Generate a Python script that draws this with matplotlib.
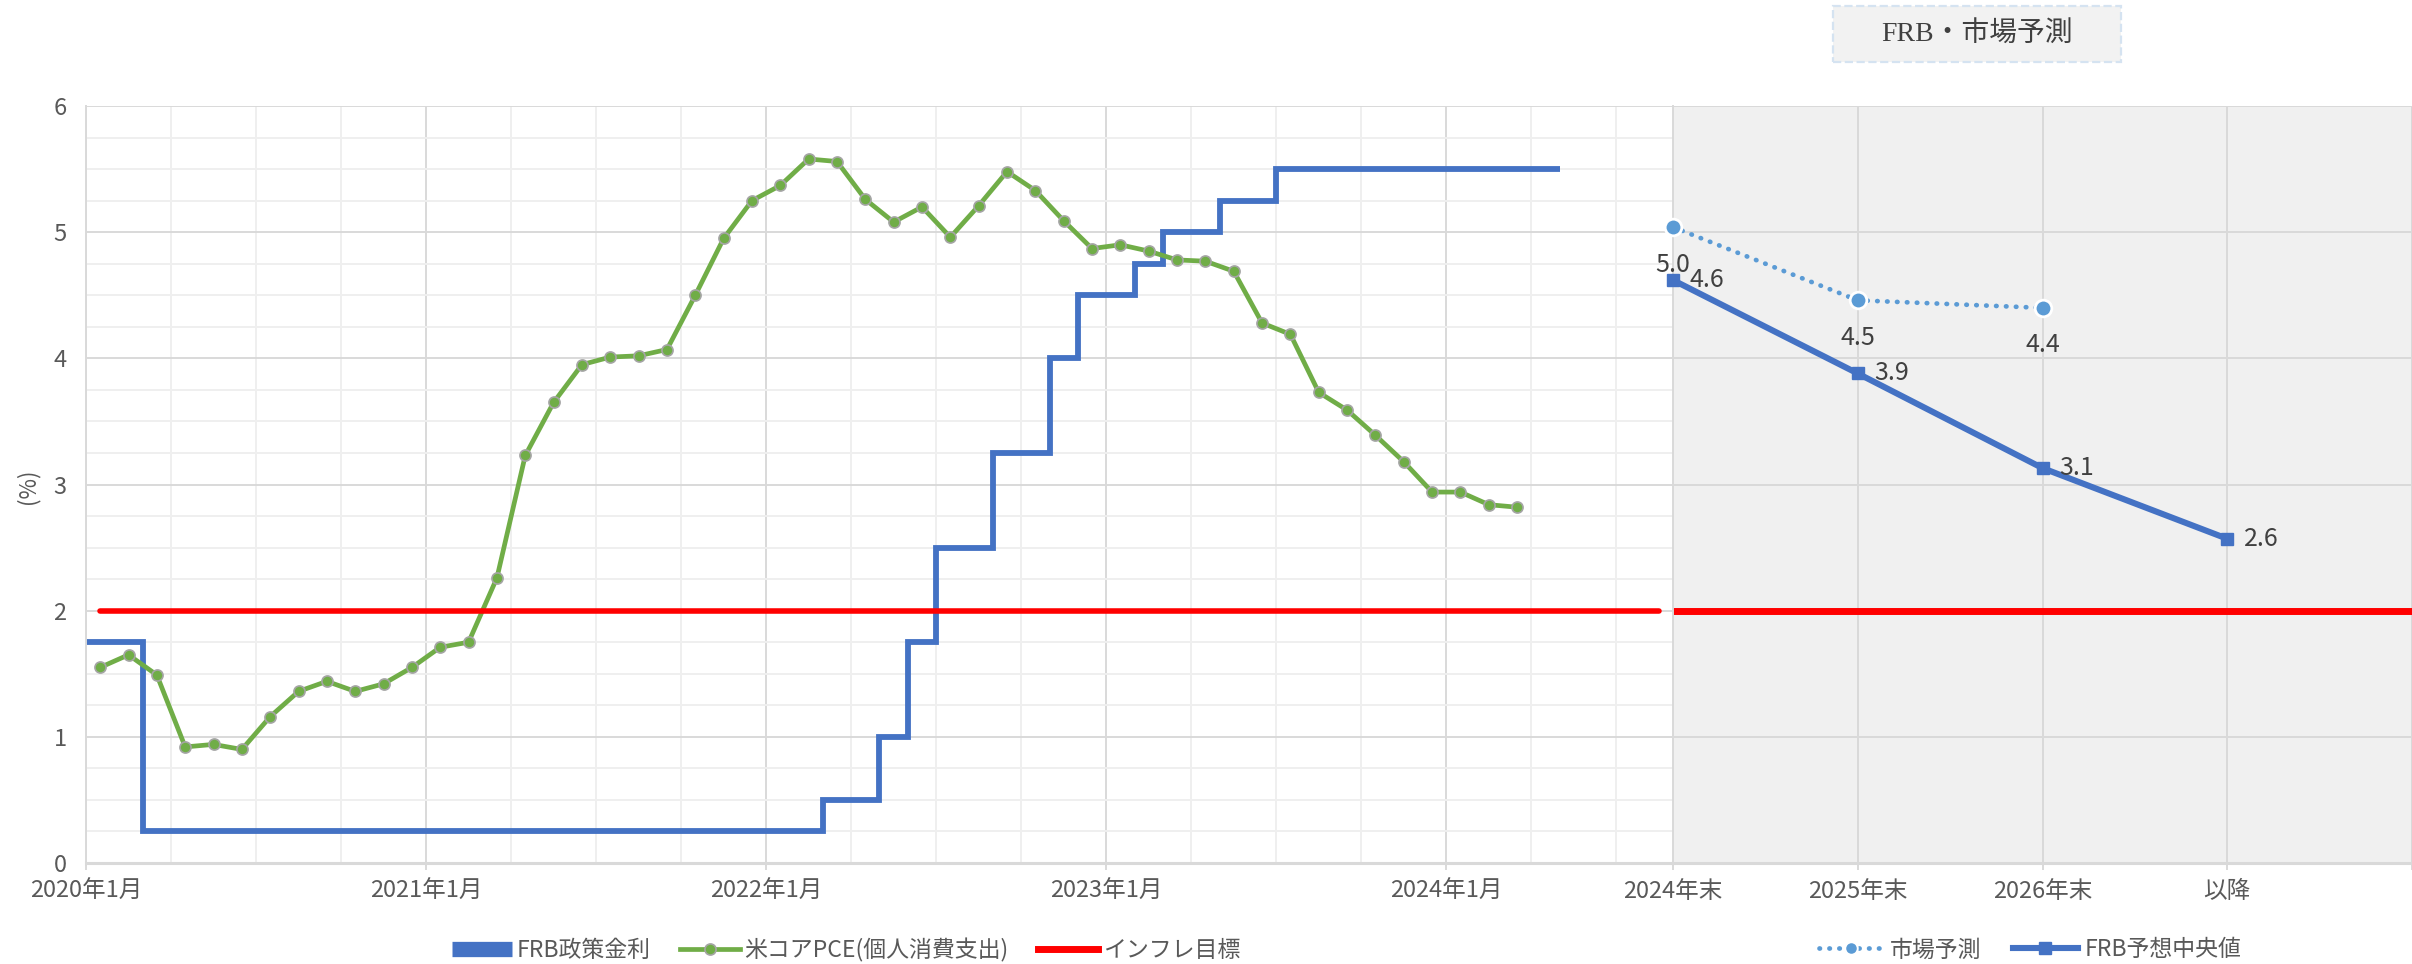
import numpy as np
import pandas as pd
import matplotlib
matplotlib.use("Agg")
import matplotlib.pyplot as plt
from matplotlib.lines import Line2D
from matplotlib.patches import Rectangle
from matplotlib.ticker import MultipleLocator

plt.rcParams["font.family"] = ["Noto Sans CJK JP", "DejaVu Sans"]

# ---- data ---------------------------------------------------------------
# monthly category axis of the left panel
AXIS_START = "2020-01"
AXIS_END = "2024-08"
year_tick_months = ["2020-01", "2021-01", "2022-01", "2023-01", "2024-01"]
year_tick_labels = ["2020年1月", "2021年1月", "2022年1月", "2023年1月", "2024年1月"]

# US core PCE, y/y %, monthly from PCE_START
PCE_START = "2020-01"
core_pce = [
    1.55, 1.65, 1.49, 0.92, 0.94, 0.90, 1.16, 1.36, 1.44, 1.36, 1.42, 1.55,
    1.71, 1.75, 2.26, 3.23, 3.65, 3.95, 4.01, 4.02, 4.07, 4.50, 4.95, 5.25,
    5.37, 5.58, 5.56, 5.26, 5.08, 5.20, 4.96, 5.21, 5.48, 5.33, 5.09, 4.87,
    4.90, 4.85, 4.78, 4.77, 4.69, 4.28, 4.19, 3.73, 3.59, 3.39, 3.18, 2.94,
    2.94, 2.84, 2.82,
]

# FRB policy rate (upper bound): level in effect from each month
rate_from = ["2020-01", "2020-03", "2022-03", "2022-05", "2022-06", "2022-07",
             "2022-09", "2022-11", "2022-12", "2023-02", "2023-03", "2023-05",
             "2023-07"]
rate_level = [1.75, 0.25, 0.5, 1.0, 1.75, 2.5, 3.25, 4.0, 4.5, 4.75, 5.0, 5.25, 5.5]
RATE_UNTIL = "2024-05"

INFLATION_TARGET = 2.0

# right panel: forecasts
forecast_labels = ["2024年末", "2025年末", "2026年末", "以降"]
market_forecast = [5.04, 4.46, 4.40]
frb_median = [4.62, 3.88, 3.13, 2.57]

# ---- style ---------------------------------------------------------------
BLUE = "#4472C4"
GREEN = "#70AD47"
RED = "#FF0000"
LIGHT_BLUE = "#5B9BD5"
GRID_MAJOR = "#d9d9d9"
GRID_MINOR = "#efefef"
TEXT = "#595959"
LABEL = "#404040"

W, H = 2412, 964


def month_index(m):
    return (pd.Period(m, "M") - pd.Period(AXIS_START, "M")).n


n_months = month_index(AXIS_END) + 1

fig = plt.figure(figsize=(W / 100, H / 100), dpi=100)
y0, y1 = 863, 106
split = 1673
ax = fig.add_axes([86 / W, (H - y0) / H, (split - 86) / W, (y0 - y1) / H])
axr = fig.add_axes([split / W, (H - y0) / H, (W - split) / W, (y0 - y1) / H])

# ---- left panel ----------------------------------------------------------
ax.set_xlim(0, n_months)
ax.set_ylim(0, 6)
ax.set_xticks([month_index(m) for m in year_tick_months])
ax.set_xticklabels(year_tick_labels)
ax.xaxis.set_minor_locator(MultipleLocator(3))
ax.yaxis.set_major_locator(MultipleLocator(1))
ax.yaxis.set_minor_locator(MultipleLocator(0.25))
ax.grid(which="minor", color=GRID_MINOR, lw=1.4)
ax.grid(which="major", color=GRID_MAJOR, lw=1.4)
ax.set_axisbelow(True)
for s in ("top", "right"):
    ax.spines[s].set_visible(False)
ax.spines["left"].set_color(GRID_MAJOR)
ax.spines["left"].set_linewidth(1.4)
ax.spines["bottom"].set_color(GRID_MAJOR)
ax.spines["bottom"].set_linewidth(2.2)
ax.tick_params(axis="y", which="both", length=0, labelsize=17, labelcolor=TEXT, pad=14)
ax.tick_params(axis="x", which="major", length=5, width=1.4, color=GRID_MAJOR,
               labelsize=17, labelcolor=TEXT, pad=7)
ax.tick_params(axis="x", which="minor", length=0)

edges = [month_index(m) for m in rate_from] + [month_index(RATE_UNTIL)]
ax.stairs(rate_level, edges, baseline=None, color=BLUE, lw=4.2, zorder=2)

pce_x = np.arange(len(core_pce)) + 0.5 + month_index(PCE_START)
ax.plot(pce_x, core_pce, color=GREEN, lw=3.4, marker="o", ms=8,
        mfc=GREEN, mec="#a5a5a5", mew=1.2, zorder=3)

centers = np.arange(n_months) + 0.5
ax.plot([centers[0], centers[-1]], [INFLATION_TARGET] * 2, color=RED, lw=4,
        solid_capstyle="round", zorder=4)

# ---- right panel ---------------------------------------------------------
axr.set_facecolor("#f0f0f0")
axr.set_xlim(0, len(forecast_labels))
axr.set_ylim(0, 6)
axr.set_xticks(range(len(forecast_labels) + 1))
axr.set_xticklabels(forecast_labels + [""])
axr.yaxis.set_major_locator(MultipleLocator(1))
axr.grid(which="major", color=GRID_MAJOR, lw=1.4)
axr.set_axisbelow(True)
for s in ("top", "right"):
    axr.spines[s].set_visible(False)
axr.spines["left"].set_color(GRID_MAJOR)
axr.spines["left"].set_linewidth(1.4)
axr.spines["bottom"].set_color(GRID_MAJOR)
axr.spines["bottom"].set_linewidth(2.2)
axr.tick_params(axis="y", length=0, labelleft=False)
axr.tick_params(axis="x", length=5, width=1.4, color=GRID_MAJOR,
                labelsize=17, labelcolor=TEXT, pad=7)

axr.plot([0, len(forecast_labels)], [INFLATION_TARGET] * 2, color=RED, lw=5, zorder=2)
axr.plot(range(len(market_forecast)), market_forecast, color=LIGHT_BLUE, lw=3.4,
         ls=(0, (0.1, 2.0)), dash_capstyle="round", marker="o", ms=12,
         mfc=LIGHT_BLUE, mec="white", mew=2, clip_on=False, zorder=4)
axr.plot(range(len(frb_median)), frb_median, color=BLUE, lw=4.4, marker="s",
         ms=8.5, clip_on=False, zorder=3)

for i, v in enumerate(market_forecast):
    axr.annotate(f"{v:.1f}", (i, v), xytext=(0, -27), textcoords="offset points",
                 ha="center", va="center", fontsize=18, color=LABEL)
for i, v in enumerate(frb_median):
    axr.annotate(f"{v:.1f}", (i, v), xytext=(12, 0), textcoords="offset points",
                 ha="left", va="center", fontsize=18, color=LABEL)

# ---- labels, legends, header box ----------------------------------------
fig.text(28 / W, 1 - 486 / H, "(%)", rotation=90, ha="center", va="center",
         fontsize=16, color=TEXT)

left_handles = [
    Line2D([], [], color=BLUE, lw=11, solid_capstyle="butt"),
    Line2D([], [], color=GREEN, lw=3.4, marker="o", ms=8, mec="#a5a5a5", mew=1.2),
    Line2D([], [], color=RED, lw=5),
]
fig.legend(left_handles, ["FRB政策金利", "米コアPCE(個人消費支出)", "インフレ目標"],
           loc="center", bbox_to_anchor=(846 / W, 1 - 950 / H), ncol=3,
           frameon=False, fontsize=16.5, handlelength=2.6, handletextpad=0.2,
           columnspacing=1.3, labelcolor=TEXT)

right_handles = [
    Line2D([], [], color=LIGHT_BLUE, lw=3.4, ls=(0, (0.1, 2.0)),
           dash_capstyle="round", marker="o", ms=9, mec="white", mew=1.4),
    Line2D([], [], color=BLUE, lw=4.4, marker="s", ms=8.5),
]
fig.legend(right_handles, ["市場予測", "FRB予想中央値"], loc="center",
           bbox_to_anchor=(2030 / W, 1 - 950 / H), ncol=2, frameon=False,
           fontsize=16.5, handlelength=2.8, handletextpad=0.3, columnspacing=1.4,
           labelcolor=TEXT)

fig.patches.append(Rectangle((1833 / W, 1 - 62 / H), 288 / W, 56 / H,
                             transform=fig.transFigure, facecolor="#f2f2f2",
                             edgecolor="#d5e3f1", lw=1.6, ls="--"))
fig.text(1977 / W, 1 - 34 / H, "FRB・市場予測", ha="center", va="center",
         fontsize=20, color=LABEL, family=["Liberation Serif", "Noto Sans CJK JP"])

fig.savefig("out.png", dpi=100)
